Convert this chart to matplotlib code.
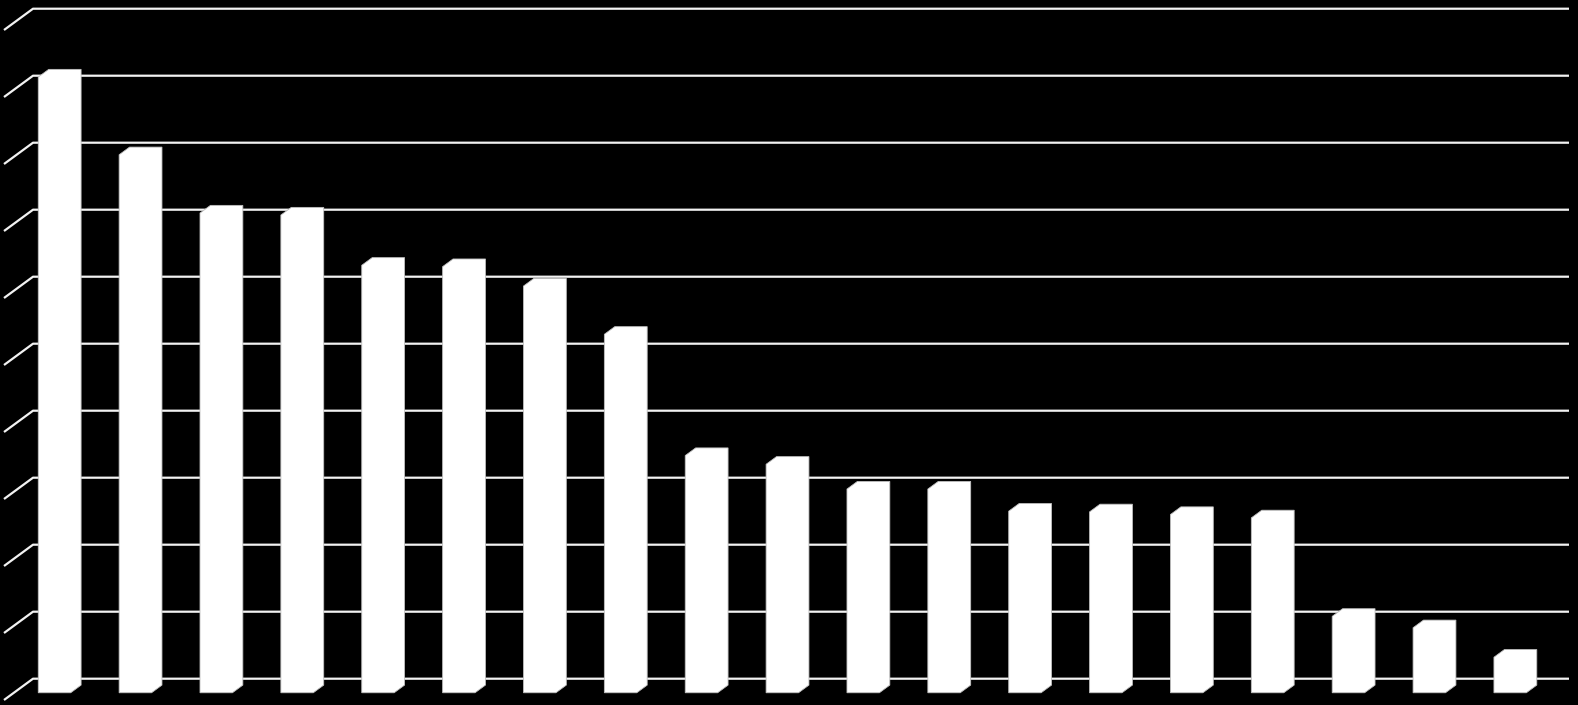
import matplotlib
matplotlib.use("Agg")
import matplotlib.pyplot as plt
from matplotlib.patches import Polygon

# 数据（从图上估读，单位 = 一格网格）
values = [9.19, 8.03, 7.16, 7.13, 6.38, 6.36, 6.07, 5.35, 3.54, 3.41,
          3.04, 3.04, 2.71, 2.70, 2.66, 2.61, 1.14, 0.97, 0.53]
grid_ticks = list(range(0, 11))

# 伪3D 投影参数（数据单位）
DX, DY = 0.3586, 0.318       # 整个深度对应的偏移
bar_w = 0.4006
d_front, d_back = 0.34, 0.70
wall_left, wall_right = -0.502, 18.491

fig = plt.figure(figsize=(15.78, 7.05), dpi=100, facecolor="black")
ax = fig.add_axes([0, 0, 1, 1])
ax.set_facecolor("black")
ax.set_xlim(-0.5515, 18.961)
ax.set_ylim(-0.0746, 10.448)
ax.axis("off")

# 背景网格线 + 左侧墙的斜线
for k in grid_ticks:
    ax.plot([wall_left, wall_left + DX, wall_right + DX], [k, k + DY, k + DY],
            color="#f2f2f2", lw=1.6, solid_capstyle="butt", zorder=1)

# 柱子：正面 + 顶面 + 侧面，全部白色
for i, v in enumerate(values):
    x0 = i - bar_w / 2 + d_front * DX
    yf = d_front * DY
    ox, oy = (d_back - d_front) * DX, (d_back - d_front) * DY
    pts = [(x0, yf), (x0, yf + v), (x0 + ox, yf + oy + v),
           (x0 + bar_w + ox, yf + oy + v), (x0 + bar_w + ox, yf + oy),
           (x0 + bar_w, yf)]
    ax.add_patch(Polygon(pts, closed=True, facecolor="white",
                         edgecolor="#bfbfbf", lw=0.6, zorder=3))

fig.savefig("out.png", dpi=100, facecolor="black")
plt.close(fig)
